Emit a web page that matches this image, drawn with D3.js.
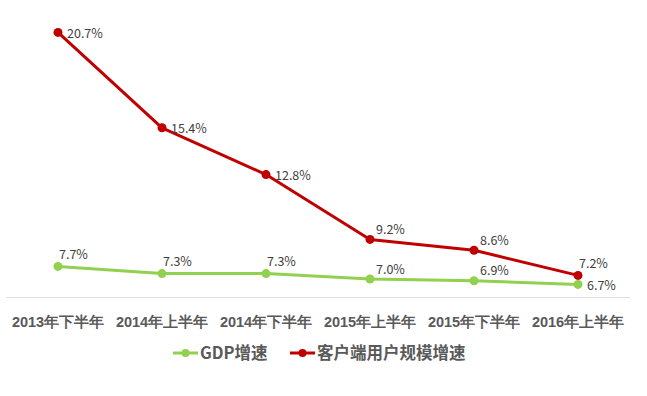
<!DOCTYPE html>
<html>
<head>
<meta charset="utf-8">
<script src="https://cdn.jsdelivr.net/npm/d3@7"></script>
<style>
  body { margin: 0; background: #fff; }
  svg { display: block; font-family: "Noto Sans CJK SC", "Noto Sans", sans-serif; }
</style>
</head>
<body>
<div id="chart"></div>
<script>
// categories and series
var categories = ["2013年下半年", "2014年上半年", "2014年下半年", "2015年上半年", "2015年下半年", "2016年上半年"];
var gdpValues = [7.7, 7.3, 7.3, 7.0, 6.9, 6.7];
var clientValues = [20.7, 15.4, 12.8, 9.2, 8.6, 7.2];
var seriesNames = ["GDP增速", "客户端用户规模增速"];
// where each data label sits relative to its point
var gdpLabelPos = ["above", "above", "above", "aboveRight", "aboveRight", "right"];
var clientLabelPos = ["right", "right", "right", "aboveRight", "aboveRight", "above"];

var width = 647, height = 396;
var colors = ["#92D050", "#C00000"];

var svg = d3.select("#chart").append("svg")
	.attr("width", width)
	.attr("height", height);

var x = d3.scaleBand()
	.domain(categories)
	.range([6, 630])
	.padding(0);

var y = d3.scaleLinear()
	.domain([6, 22])
	.range([297, 9]);

// x axis
var xAxis = svg.append("g")
	.attr("transform", "translate(0," + y(6) + ")")
	.call(d3.axisBottom(x).tickSize(0).tickPadding(0));

xAxis.select(".domain")
	.attr("stroke", "#BFBFBF")
	.attr("stroke-width", 1)
	.attr("stroke-dasharray", "1,1");

xAxis.selectAll(".tick text")
	.attr("dy", null)
	.attr("y", 30)
	.attr("fill", "#595959")
	.style("font-size", "14.5px")
	.style("font-weight", "bold");

var series = [
	{ name: seriesNames[0], values: gdpValues, pos: gdpLabelPos, color: colors[0] },
	{ name: seriesNames[1], values: clientValues, pos: clientLabelPos, color: colors[1] }
];

var line = d3.line()
	.x(function(d, i) { return x(categories[i]) + x.bandwidth() / 2; })
	.y(function(d) { return y(d); });

var offsets = {
	above: { dx: 1, dy: -13 },
	aboveRight: { dx: 6, dy: -11 },
	right: { dx: 9, dy: 0 }
};

series.forEach(function(s) {
	var g = svg.append("g");

	g.append("path")
		.datum(s.values)
		.attr("d", line)
		.attr("fill", "none")
		.attr("stroke", s.color)
		.attr("stroke-width", 3)
		.attr("stroke-linejoin", "round");

	g.selectAll("circle")
		.data(s.values)
		.enter()
		.append("circle")
			.attr("cx", function(d, i) { return x(categories[i]) + x.bandwidth() / 2; })
			.attr("cy", function(d) { return y(d); })
			.attr("r", 4.5)
			.attr("fill", s.color);

	g.selectAll("text")
		.data(s.values)
		.enter()
		.append("text")
			.attr("x", function(d, i) { return x(categories[i]) + x.bandwidth() / 2 + offsets[s.pos[i]].dx; })
			.attr("y", function(d, i) { return y(d) + offsets[s.pos[i]].dy; })
			.attr("dominant-baseline", "central")
			.attr("fill", "#404040")
			.style("font-size", "12.5px")
			.text(function(d) { return d.toFixed(1) + "%"; });
});

// legend
var legendItems = [
	{ name: seriesNames[0], color: colors[0], x: 173 },
	{ name: seriesNames[1], color: colors[1], x: 290 }
];

var legend = svg.append("g")
	.attr("transform", "translate(0,353)");

legendItems.forEach(function(d) {
	legend.append("line")
		.attr("x1", d.x).attr("x2", d.x + 25)
		.attr("y1", 0).attr("y2", 0)
		.attr("stroke", d.color)
		.attr("stroke-width", 3);
	legend.append("circle")
		.attr("cx", d.x + 12.5).attr("cy", 0)
		.attr("r", 4)
		.attr("fill", d.color);
	legend.append("text")
		.attr("x", d.x + 27)
		.attr("y", -1)
		.attr("dominant-baseline", "central")
		.attr("fill", "#595959")
		.style("font-size", "16.5px")
		.style("font-weight", "bold")
		.text(d.name);
});
</script>
</body>
</html>
